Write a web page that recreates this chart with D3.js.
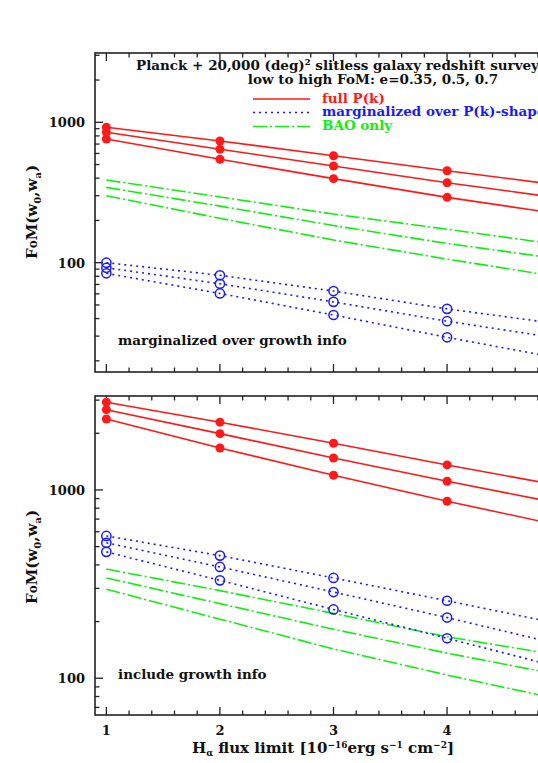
<!DOCTYPE html>
<html>
<head>
<meta charset="utf-8">
<script src="https://cdn.jsdelivr.net/npm/d3@7"></script>
<style>
  body { margin: 0; background: #fff; }
  svg text { font-family: "DejaVu Serif", "Liberation Serif", serif; font-weight: bold; }
</style>
</head>
<body>
<div id="chart"></div>
<script>
// flux limits (1e-16 erg/s/cm^2)
var xs = [1, 2, 3, 4, 5];

// top panel: marginalized over growth info  (e = 0.7, 0.5, 0.35)
var topFull  = [[921, 736, 578, 452, 356], [849, 643, 488, 371, 288], [761, 545, 397, 292, 222]];
var topShape = [[100, 81.3, 62.8, 46.9, 36.5], [92, 70.8, 52.6, 38.3, 28.8], [84, 60.4, 42.4, 29.4, 20.8]];
var topBAO   = [[388, 294, 222, 173, 134], [344, 253, 184, 137, 106], [300, 207, 145, 106, 79]];

// bottom panel: include growth info
var botFull  = [[2925, 2291, 1770, 1358, 1052], [2669, 1991, 1479, 1112, 846], [2382, 1671, 1197, 871, 647]];
var botShape = [[570, 448, 341, 258, 194], [524, 390, 287, 210, 151], [469, 331, 232, 163, 114]];
var botBAO   = [[380, 292, 221, 166, 132], [341, 249, 182, 136, 104], [297, 206, 143, 104, 77]];

var xTicks = [1, 2, 3, 4];
var yTicks = [100, 1000];

var RED = "#ff1a1a", BLUE = "#1a1aff", GREEN = "#12ee12", AX = "#222";

var svg = d3.select("#chart").append("svg")
    .attr("width", 538)
    .attr("height", 763);

var x = d3.scaleLinear().domain([0.9, 5.1]).range([95, 572]);

function panel(top, bottom, ydom, full, shape, bao, note, noteY, labelY) {
    var y = d3.scaleLog().domain(ydom).range([bottom, top]);
    var g = svg.append("g");

    // minor/major ticks on y
    var yt = [];
    for (var dec = 10; dec <= 10000; dec *= 10)
        for (var m = 1; m < 10; m++) {
            var v = dec * m;
            if (v >= ydom[0] && v <= ydom[1]) yt.push(v);
        }
    g.selectAll(".yt").data(yt).enter().append("line")
        .attr("x1", x(0.9)).attr("x2", function (d) { return x(0.9) + (yTicks.indexOf(d) >= 0 ? 8 : 4.5); })
        .attr("y1", function (d) { return y(d); }).attr("y2", function (d) { return y(d); })
        .attr("stroke", AX).attr("stroke-width", 1.3);

    g.selectAll(".yl").data(yTicks).enter().append("text")
        .attr("x", 85).attr("y", function (d) { return y(d) + 5; })
        .attr("text-anchor", "end").attr("font-size", 13).attr("fill", "#111")
        .text(function (d) { return d; });

    // x ticks, bottom and top
    var xt = d3.range(10, 51, 2).map(function (d) { return d / 10; });
    [bottom, top].forEach(function (base, k) {
        var dir = k == 0 ? -1 : 1;
        g.selectAll(".xt" + k).data(xt).enter().append("line")
            .attr("x1", function (d) { return x(d); }).attr("x2", function (d) { return x(d); })
            .attr("y1", base)
            .attr("y2", function (d) { return base + dir * (Math.abs(d - Math.round(d)) < 0.01 ? 8 : 4.5); })
            .attr("stroke", AX).attr("stroke-width", 1.3);
    });

    // frame
    g.append("rect").attr("x", x(0.9)).attr("y", top)
        .attr("width", x(5.1) - x(0.9)).attr("height", bottom - top)
        .attr("fill", "none").attr("stroke", AX).attr("stroke-width", 1.6);

    var line = d3.line().x(function (d, i) { return x(xs[i]); }).y(function (d) { return y(d); });

    bao.forEach(function (s) {
        g.append("path").attr("d", line(s)).attr("fill", "none")
            .attr("stroke", GREEN).attr("stroke-width", 1.6).attr("stroke-dasharray", "14,3,2,3");
    });
    shape.forEach(function (s) {
        g.append("path").attr("d", line(s)).attr("fill", "none")
            .attr("stroke", BLUE).attr("stroke-width", 1.6).attr("stroke-dasharray", "2,4");
        g.selectAll(null).data(s).enter().append("circle")
            .attr("cx", function (d, i) { return x(xs[i]); }).attr("cy", function (d) { return y(d); })
            .attr("r", 4.6).attr("fill", "none").attr("stroke", BLUE).attr("stroke-width", 1.5);
    });
    full.forEach(function (s) {
        g.append("path").attr("d", line(s)).attr("fill", "none")
            .attr("stroke", RED).attr("stroke-width", 1.6);
        g.selectAll(null).data(s).enter().append("circle")
            .attr("cx", function (d, i) { return x(xs[i]); }).attr("cy", function (d) { return y(d); })
            .attr("r", 4.5).attr("fill", RED);
    });

    g.append("text").attr("x", 118).attr("y", noteY).attr("font-size", 13.5).attr("fill", "#111").text(note);

    var yl = g.append("text").attr("transform", "translate(37," + labelY + ") rotate(-90)")
        .attr("text-anchor", "middle").attr("font-size", 15).attr("fill", "#111");
    yl.append("tspan").text("F");
    yl.append("tspan").attr("font-size", 12).text("o");
    yl.append("tspan").text("M(w");
    yl.append("tspan").attr("font-size", 10).attr("dy", 4).text("0");
    yl.append("tspan").attr("dy", -4).text(",w");
    yl.append("tspan").attr("font-size", 10).attr("dy", 4).text("a");
    yl.append("tspan").attr("dy", -4).text(")");
}

panel(53, 372, [16.65, 3116], topFull, topShape, topBAO, "marginalized over growth info", 345, 212);
panel(396, 715, [63.8, 3155], botFull, botShape, botBAO, "include growth info", 679, 557);

// x tick labels
svg.selectAll(".xl").data(xTicks).enter().append("text")
    .attr("x", function (d) { return x(d); }).attr("y", 735)
    .attr("text-anchor", "middle").attr("font-size", 13).attr("fill", "#111")
    .text(function (d) { return d; });

var xl = svg.append("text").attr("x", 323).attr("y", 753).attr("text-anchor", "middle")
    .attr("font-size", 15).attr("fill", "#111");
xl.append("tspan").text("H");
xl.append("tspan").attr("font-size", 9).attr("dy", 3).text("α");
xl.append("tspan").attr("dy", -3).text(" flux limit [10");
xl.append("tspan").attr("font-size", 9).attr("dy", -5).text("−16");
xl.append("tspan").attr("dy", 5).text("erg s");
xl.append("tspan").attr("font-size", 9).attr("dy", -5).text("−1");
xl.append("tspan").attr("dy", 5).text(" cm");
xl.append("tspan").attr("font-size", 9).attr("dy", -5).text("−2");
xl.append("tspan").attr("dy", 5).text("]");

// title
svg.append("text").attr("x", 136).attr("y", 70).attr("font-size", 13.5).attr("fill", "#111")
    .text("Planck + 20,000 (deg)² slitless galaxy redshift survey");
svg.append("text").attr("x", 373).attr("y", 84).attr("text-anchor", "middle").attr("font-size", 13.5).attr("fill", "#111")
    .text("low to high FoM: e=0.35, 0.5, 0.7");

// legend
var legend = [
    { label: "full P(k)", color: RED, dash: null, y: 99 },
    { label: "marginalized over P(k)-shape", color: BLUE, dash: "2,4", y: 112.5 },
    { label: "BAO only", color: GREEN, dash: "14,3,2,3", y: 126.5 }
];
legend.forEach(function (l) {
    svg.append("line").attr("x1", 253).attr("x2", 310).attr("y1", l.y).attr("y2", l.y)
        .attr("stroke", l.color).attr("stroke-width", 1.6).attr("stroke-dasharray", l.dash);
    svg.append("text").attr("x", 322).attr("y", l.y + 3.8).attr("font-size", 13.5)
        .attr("fill", l.color).text(l.label);
});
</script>
</body>
</html>
